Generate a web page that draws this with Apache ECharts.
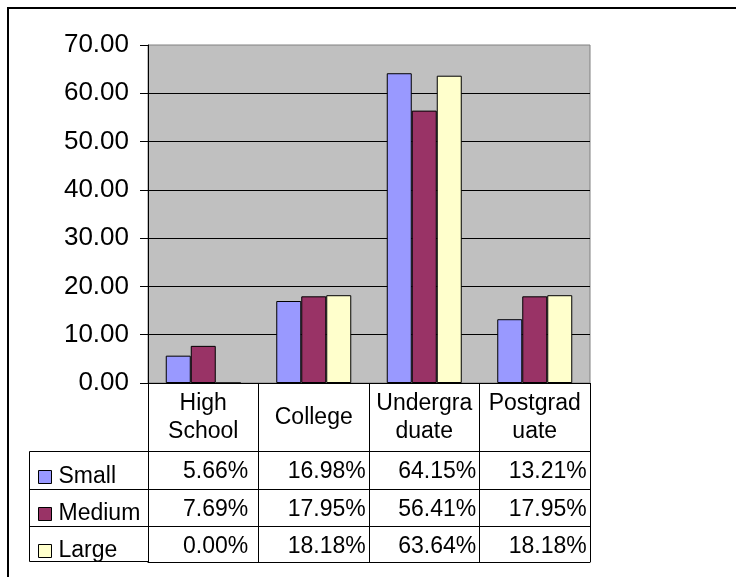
<!DOCTYPE html>
<html>
<head>
<meta charset="utf-8">
<title>Education level by company size</title>
<script src="https://cdn.jsdelivr.net/npm/echarts@6/dist/echarts.min.js"></script>
<style>
  html, body { margin: 0; padding: 0; background: #ffffff; }
  #chart { width: 736px; height: 577px; }
</style>
</head>
<body>
<div id="chart"></div>
<script>
// Category labels as they wrap inside the data-table header cells
const categories = ['High\nSchool', 'College', 'Undergra\nduate', 'Postgrad\nuate'];

// Share of respondents (%) per education level
const seriesNames = ['Small', 'Medium', 'Large'];
const small  = [5.66, 16.98, 64.15, 13.21];
const medium = [7.69, 17.95, 56.41, 17.95];
const large  = [0.00, 18.18, 63.64, 18.18];

// Value axis ticks
const yMin = 0;
const yMax = 70;
const yStep = 10;

const FONT = "Arial, 'Liberation Sans', sans-serif";
const colors = ['#9999FF', '#993366', '#FFFFCC'];

const pct = v => v.toFixed(2) + '%';

// One row of the data table, drawn as an extra category axis below the plot
function tableRow(offset, tickLen, values) {
  return {
    type: 'category',
    data: categories,
    position: 'bottom',
    offset: offset,
    boundaryGap: true,
    axisLine: { show: true, onZero: false, lineStyle: { color: '#000', width: 1 } },
    axisTick: { show: !!tickLen, length: tickLen || 0, interval: 0, lineStyle: { color: '#000', width: 1 } },
    splitLine: { show: false },
    axisLabel: values ? {
      interval: 0,
      margin: 21,
      verticalAlign: 'middle',
      formatter: (v, i) => (i === 0 ? '{a|' : '{b|') + pct(values[i]) + '}',
      rich: {
        a: { width: 90, align: 'right', fontSize: 23, fontFamily: FONT, color: '#000' },
        b: { width: 104, align: 'right', fontSize: 23, fontFamily: FONT, color: '#000' }
      }
    } : { show: false }
  };
}

const chart = echarts.init(document.getElementById('chart'), null, { renderer: 'canvas' });

chart.setOption({
  animation: false,
  backgroundColor: '#ffffff',
  grid: {
    left: 148, right: 146, top: 45, bottom: 194,
    show: true,
    backgroundColor: '#C0C0C0',
    borderColor: '#808080',
    borderWidth: 1
  },
  legend: {
    data: seriesNames,
    orient: 'vertical',
    left: 33,
    top: 460,
    itemWidth: 13,
    itemHeight: 13,
    itemGap: 13,
    icon: 'rect',
    selectedMode: false,
    itemStyle: { borderColor: '#000', borderWidth: 1 },
    textStyle: { fontSize: 23, fontFamily: FONT, color: '#000', lineHeight: 24, padding: [0, 0, 0, 2] }
  },
  xAxis: [
    {
      type: 'category',
      data: categories,
      position: 'bottom',
      boundaryGap: true,
      axisLine: { show: true, onZero: false, lineStyle: { color: '#000', width: 1 } },
      axisTick: { show: true, length: 68, interval: 0, lineStyle: { color: '#000', width: 1 } },
      splitLine: { show: false },
      axisLabel: {
        interval: 0,
        margin: 35,
        verticalAlign: 'middle',
        lineHeight: 28,
        fontSize: 23,
        fontFamily: FONT,
        color: '#000'
      }
    },
    tableRow(68, 38, small),
    tableRow(106, 37, medium),
    tableRow(143, 36, large),
    tableRow(179, 0, null)
  ],
  yAxis: {
    type: 'value',
    min: yMin,
    max: yMax,
    interval: yStep,
    axisLine: { show: true, lineStyle: { color: '#000', width: 1 } },
    axisTick: { show: true, length: 8, inside: false, lineStyle: { color: '#000', width: 1 } },
    splitLine: { show: true, showMaxLine: false, lineStyle: { color: '#000', width: 1 } },
    axisLabel: {
      margin: 19,
      fontSize: 26,
      fontFamily: FONT,
      color: '#000',
      padding: [6, 0, 0, 0],
      formatter: v => v.toFixed(2)
    }
  },
  series: [small, medium, large].map((vals, k) => ({
    name: seriesNames[k],
    type: 'bar',
    data: vals,
    xAxisIndex: 0,
    barWidth: 25,
    barGap: '0%',
    itemStyle: { color: colors[k], borderColor: '#000', borderWidth: 1 }
  })),
  graphic: [
    // outer chart frame
    {
      type: 'rect', z: 100,
      shape: { x: 8, y: 8, width: 900, height: 900 },
      style: { fill: 'none', stroke: '#000', lineWidth: 2 }
    },
    // legend-key column of the data table
    {
      type: 'rect', z: 100,
      shape: { x: 29.5, y: 451.5, width: 119, height: 110 },
      style: { fill: 'none', stroke: '#000', lineWidth: 1 }
    },
    {
      type: 'line', z: 100,
      shape: { x1: 29.5, y1: 489.5, x2: 148, y2: 489.5 },
      style: { stroke: '#000', lineWidth: 1 }
    },
    {
      type: 'line', z: 100,
      shape: { x1: 29.5, y1: 526.5, x2: 148, y2: 526.5 },
      style: { stroke: '#000', lineWidth: 1 }
    }
  ]
});
</script>
</body>
</html>
